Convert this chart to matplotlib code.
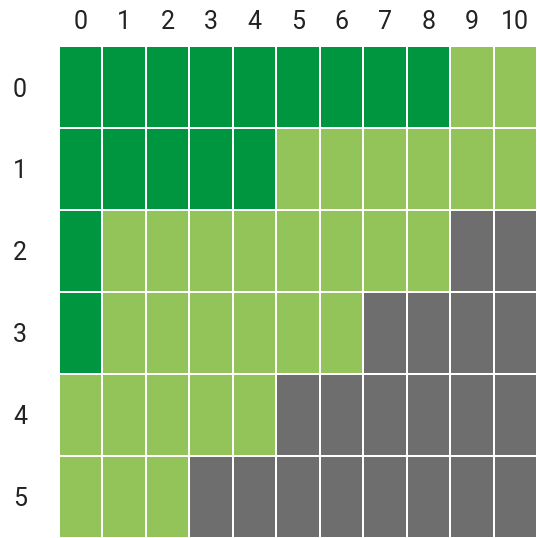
import matplotlib.pyplot as plt
import numpy as np
from matplotlib.colors import ListedColormap

plt.rcParams['font.family'] = ['Roboto', 'DejaVu Sans']

# category per cell: 0 = dark green, 1 = light green, 2 = grey
cols = list(range(11))
rows = list(range(6))
dark_until = [9, 5, 1, 1, 0, 0]    # number of dark cells per row
grey_from = [11, 11, 9, 7, 5, 3]   # first grey column per row

grid = np.ones((len(rows), len(cols)))
for r in rows:
    grid[r, :dark_until[r]] = 0
    grid[r, grey_from[r]:] = 2

cmap = ListedColormap(['#009640', '#92c45a', '#6e6e6e'])

fig = plt.figure(figsize=(5.37, 5.38), dpi=100)
ax = fig.add_axes([59/537, 0, 478/537, 492/538])
ax.pcolormesh(np.arange(len(cols)+1), np.arange(len(rows)+1), grid,
              cmap=cmap, vmin=0, vmax=2, edgecolors='white', linewidth=1.4)
ax.set_xlim(0, len(cols))
ax.set_ylim(len(rows), 0)
ax.xaxis.tick_top()
ax.set_xticks(np.arange(len(cols)) + 0.5)
ax.set_xticklabels([str(c) for c in cols], fontsize=18, color='#222222')
ax.set_yticks(np.arange(len(rows)) + 0.5)
ax.set_yticklabels([str(r) for r in rows], fontsize=18, color='#222222')
ax.tick_params(length=0, pad=9)
ax.tick_params(axis='y', pad=23)
for s in ax.spines.values():
    s.set_visible(False)
plt.savefig('out.png', dpi=100)
